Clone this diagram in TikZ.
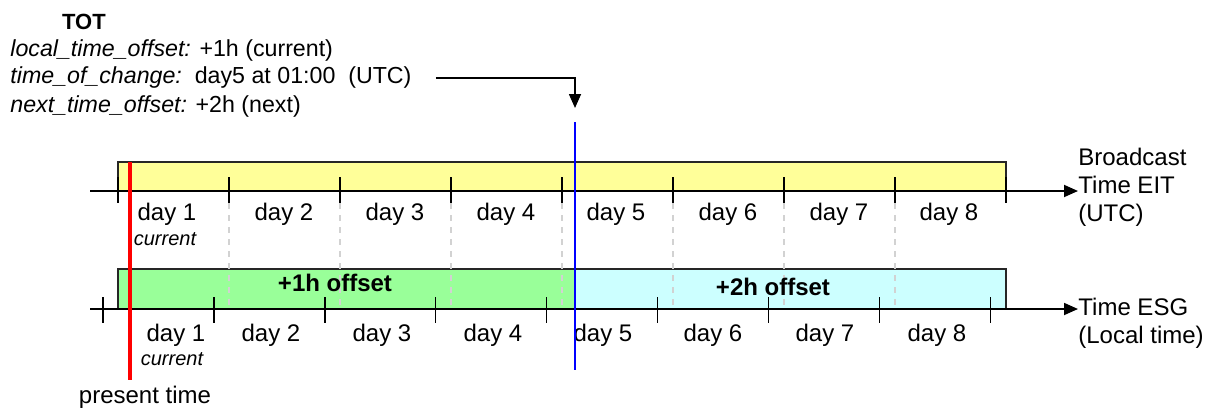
\documentclass[tikz,border=0pt]{standalone}
\usepackage{fontspec}
\setmainfont{Liberation Sans}
\usetikzlibrary{arrows.meta}
\definecolor{eityellow}{RGB}{255,255,153}
\definecolor{esggreen}{RGB}{153,255,153}
\definecolor{esgcyan}{RGB}{204,255,255}

\begin{document}
\begin{tikzpicture}[x=0.5pt, y=-0.5pt, inner sep=0pt,
    font=\fontsize{12}{14}\selectfont,
    timebox/.style={draw=black!85, line width=0.8pt},
    axis/.style={line width=0.9pt, -{Triangle[length=7pt,width=6pt]}},
    daytick/.style={line width=0.7pt},
    daygrid/.style={gray!35, dashed, line width=0.6pt},
    smalltext/.style={font=\fontsize{10}{12}\selectfont\itshape},
    offsettext/.style={font=\fontsize{12}{14}\selectfont\bfseries},
    totfield/.style={anchor=west, font=\fontsize{11.6}{14}\selectfont}]
    \useasboundingbox (0,0) rectangle (1212,412);

    % TOT fields
    \node[font=\fontsize{11}{13}\selectfont\bfseries] at (84,22) (tot) {TOT};
    \node[totfield] at (10,50) (offset) {\textit{local\_time\_offset:} +1h (current)};
    \node[totfield] at (10,78) (change) {\textit{time\_of\_change:}\ \ day5 at 01:00\ \ (UTC)};
    \node[totfield] at (10,106) (next) {\textit{next\_time\_offset:} +2h (next)};

    % Boxes
    \draw[timebox, fill=eityellow] (118,162) rectangle (1006,191);
    \draw[timebox, fill=esggreen] (118,269) rectangle (575,309);
    \draw[timebox, fill=esgcyan] (575,269) rectangle (1006,309);

    % Day borders (UTC)
    \foreach \k in {1,...,7}
        \draw[daygrid] ({118+111*\k},191) -- ++(0,118);

    % Axis labels
    \node[anchor=west, align=left] at (1078,187) (eitlabel) {Broadcast\\Time EIT\\(UTC)};
    \node[anchor=west, align=left] at (1078,323) (esglabel) {Time ESG\\(Local time)};

    % Axes
    \coordinate (eitstart) at (90,191);
    \coordinate (esgstart) at (90,309);
    \draw[axis] (eitstart) -- (eitstart -| eitlabel.west);
    \draw[axis] (esgstart) -- (esgstart -| esglabel.west);

    % Ticks
    \foreach \k in {0,...,8}
        \draw[daytick] ({118+111*\k},177) -- ++(0,26);
    \foreach \k in {0,...,8}
        \draw[daytick] ({103+110.9*\k},297) -- ++(0,26);

    % Days
    \foreach \i/\x in {1/167,2/284,3/395,4/506,5/616,6/728,7/839,8/949}
        \node at (\x,214) (eit\i) {day \i};
    \foreach \i/\x in {1/176,2/271,3/382,4/493,5/603,6/713,7/825,8/937}
        \node at (\x,335) (esg\i) {day \i};
    \node[smalltext] at (165,239) (eitcur) {current};
    \node[smalltext] at (172,359) (esgcur) {current};

    % Offsets
    \node[offsettext] at (335,283) (offone) {+1h offset};
    \node[offsettext] at (773,287) (offtwo) {+2h offset};

    % Present time
    \coordinate (nowtop) at (130,162);
    \coordinate (nowbot) at (130,380);
    \draw[red, line width=2pt] (nowtop) -- (nowbot);
    \node at (145,397) (present) {present time};

    % Time of change
    \coordinate (changetop) at (575,122);
    \coordinate (changebot) at (575,370);
    \coordinate (changemark) at (575,108);
    \draw[blue, line width=0.9pt] (changetop) -- (changebot);
    \draw[line width=0.8pt, -{Triangle[length=7pt,width=6pt]}] ([xshift=12pt]change.east) -| (changemark);
\end{tikzpicture}
\end{document}
